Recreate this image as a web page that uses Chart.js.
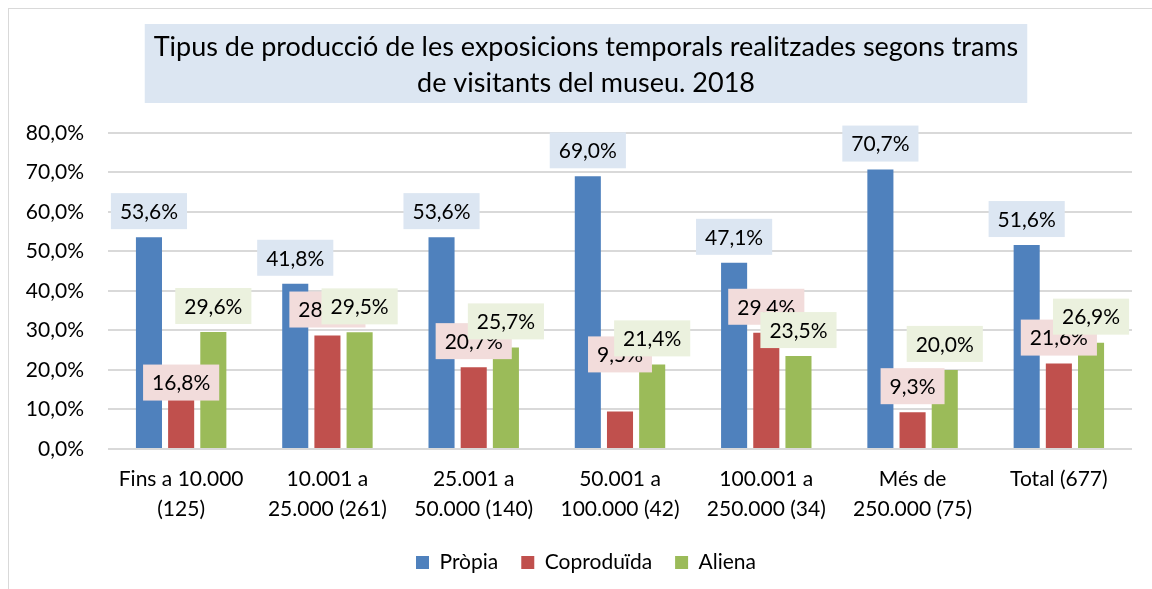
<!DOCTYPE html>
<html><head><meta charset="utf-8">
<script src="https://cdn.jsdelivr.net/npm/chart.js@4/dist/chart.umd.min.js"></script>
<style>
html,body{margin:0;padding:0;background:#fff;overflow:hidden;}
#wrap{position:relative;width:1152px;height:589px;overflow:hidden;}
#frame{position:absolute;left:8px;top:8px;width:1200px;height:700px;border:1px solid #d9d9d9;box-sizing:border-box;pointer-events:none;}
canvas{position:absolute;left:0;top:0;}
</style></head><body>
<div id="wrap"><canvas id="c" width="1152" height="589"></canvas><div id="frame"></div></div>
<script>
const titleLines = ["Tipus de producció de les exposicions temporals realitzades segons trams", "de visitants del museu. 2018"];
const categories = [
  ["Fins a 10.000", "(125)"],
  ["10.001 a", "25.000 (261)"],
  ["25.001 a", "50.000 (140)"],
  ["50.001 a", "100.000 (42)"],
  ["100.001 a", "250.000 (34)"],
  ["Més de", "250.000 (75)"],
  ["Total (677)"]
];
const seriesNames = ["Pròpia", "Coproduïda", "Aliena"];
const propia     = [53.6, 41.8, 53.6, 69.0, 47.1, 70.7, 51.6];
const coproduida = [16.8, 28.7, 20.7,  9.5, 29.4,  9.3, 21.6];
const aliena     = [29.6, 29.5, 25.7, 21.4, 23.5, 20.0, 26.9];
const yMin = 0, yMax = 80, yStep = 10;

const FONT = "Lato, 'Open Sans', sans-serif";
const fmt = v => v.toFixed(1).replace('.', ',') + '%';

const shiftPlugin = {
  id: 'shiftBlocks',
  afterLayout(chart, args, opts) {
    [chart.titleBlock, chart.legend].forEach(b => {
      if (!b) return;
      b.left = opts.left;
      b.width = b.right - b.left;
    });
  }
};

const titleBoxPlugin = {
  id: 'titleBox',
  beforeDraw(chart, args, opts) {
    const tb = chart.titleBlock;
    if (!tb) return;
    const ctx = chart.ctx;
    ctx.save();
    ctx.font = `${opts.size}px ${FONT}`;
    let mw = 0;
    titleLines.forEach(l => { mw = Math.max(mw, ctx.measureText(l).width); });
    const w = mw + opts.padX * 2;
    const cx = (tb.left + tb.right) / 2;
    ctx.fillStyle = opts.color;
    ctx.fillRect(cx - w / 2, tb.top, w, opts.height);
    ctx.restore();
  }
};

const labelPlugin = {
  id: 'barLabels',
  afterDatasetsDraw(chart, args, opts) {
    const ctx = chart.ctx;
    ctx.save();
    ctx.font = `${opts.size}px ${FONT}`;
    ctx.textAlign = 'center';
    ctx.textBaseline = 'middle';
    chart.data.datasets.forEach((ds, i) => {
      const meta = chart.getDatasetMeta(i);
      meta.data.forEach((bar, j) => {
        const txt = fmt(ds.data[j]);
        const w = ctx.measureText(txt).width + 2 * opts.padX;
        const h = opts.boxH;
        const nudge = (opts.nudge[i] && opts.nudge[i][j]) || 0;
        const cy = bar.y - opts.offset + nudge;
        ctx.fillStyle = opts.bg[i];
        ctx.fillRect(bar.x - w / 2, cy - h / 2, w, h);
        ctx.fillStyle = '#000';
        ctx.fillText(txt, bar.x, cy + 1);
      });
    });
    ctx.restore();
  }
};

function build() {
  new Chart(document.getElementById('c'), {
    type: 'bar',
    data: {
      labels: categories,
      datasets: [
        { label: seriesNames[0], data: propia, backgroundColor: '#4f81bd' },
        { label: seriesNames[1], data: coproduida, backgroundColor: '#c0504d' },
        { label: seriesNames[2], data: aliena, backgroundColor: '#9bbb59' }
      ]
    },
    options: {
      responsive: false,
      animation: false,
      events: [],
      categoryPercentage: 0.66,
      barPercentage: 0.81,
      layout: { padding: { top: 24, left: 0, right: 20, bottom: 6 } },
      scales: {
        x: {
          afterFit(scale) { scale.height -= 10; },
          grid: { display: false, drawTicks: false },
          border: { display: false },
          ticks: { color: '#000', font: { family: FONT, size: 21, lineHeight: 1.43 }, padding: 15, maxRotation: 0, autoSkip: false }
        },
        y: {
          min: yMin, max: yMax,
          afterFit(scale) { scale.width = 108; },
          grid: { color: '#d9d9d9', lineWidth: 2, drawTicks: false },
          border: { display: false },
          ticks: { stepSize: yStep, color: '#000', font: { family: FONT, size: 21 }, padding: 24, callback: v => fmt(v) }
        }
      },
      plugins: {
        shiftBlocks: { left: 40 },
        title: {
          display: true,
          text: titleLines,
          color: '#000',
          font: { family: FONT, size: 27, weight: 'normal', lineHeight: 1.33 },
          padding: { top: 5, bottom: 32 }
        },
        titleBox: { size: 27, padX: 9, height: 79, color: '#dce6f2' },
        legend: {
          position: 'bottom',
          labels: { color: '#000', font: { family: FONT, size: 21 }, boxWidth: 13, boxHeight: 13, padding: 23 }
        },
        tooltip: { enabled: false },
        barLabels: {
          size: 21, padX: 9, boxH: 36, offset: 26,
          bg: ['#dce6f2', '#f2dcdb', '#ebf1de'],
          nudge: { 1: { 0: 26, 3: -31 } }
        }
      }
    },
    plugins: [shiftPlugin, titleBoxPlugin, labelPlugin]
  });
}
if (document.fonts && document.fonts.load) {
  Promise.all([document.fonts.load('21px Lato'), document.fonts.load('27px Lato')]).then(build, build);
} else { build(); }
</script>
</body></html>
